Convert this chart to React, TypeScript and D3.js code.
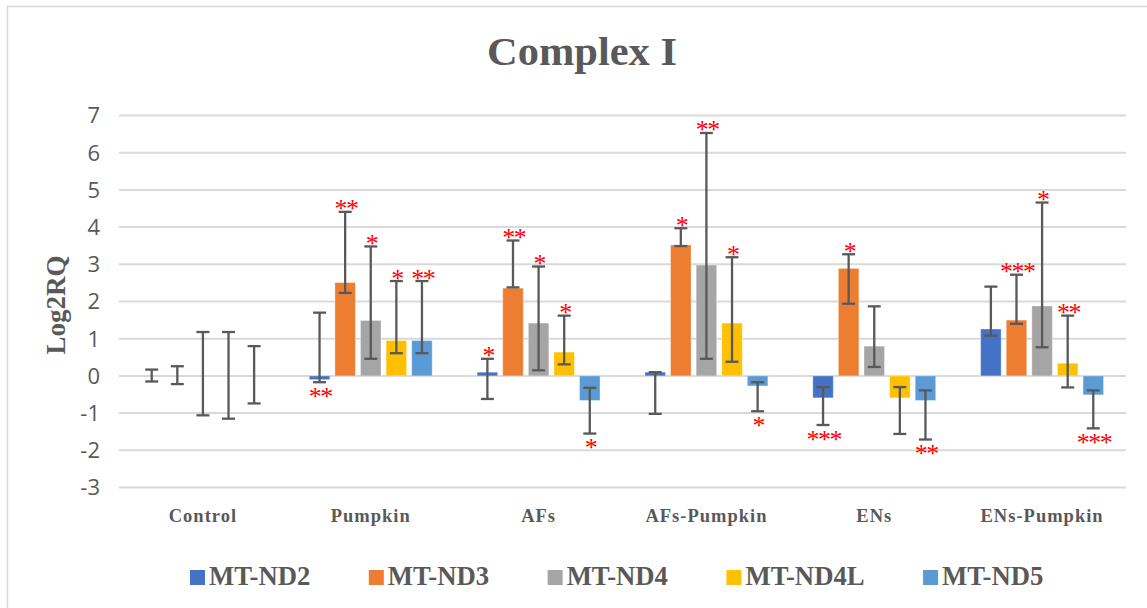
import * as d3 from "d3";

const categories = ["Control", "Pumpkin", "AFs", "AFs-Pumpkin", "ENs", "ENs-Pumpkin"];
const seriesNames = ["MT-ND2", "MT-ND3", "MT-ND4", "MT-ND4L", "MT-ND5"];
const seriesColors = ["#4472C4", "#ED7D31", "#A5A5A5", "#FFC000", "#5B9BD5"];

// bar heights (Log2RQ), one array per gene, in category order
const nd2 = [0, -0.1, 0.1, 0.1, -0.59, 1.26];
const nd3 = [0, 2.51, 2.36, 3.52, 2.89, 1.5];
const nd4 = [0, 1.49, 1.42, 2.98, 0.8, 1.88];
const nd4l = [0, 0.95, 0.64, 1.42, -0.59, 0.34];
const nd5 = [0, 0.95, -0.66, -0.27, -0.66, -0.51];

// error bar ends
const nd2High = [0.17, 1.7, 0.46, 0.1, -0.3, 2.4];
const nd3High = [0.26, 4.41, 3.64, 3.97, 3.27, 2.72];
const nd4High = [1.18, 3.48, 2.94, 6.53, 1.87, 4.66];
const nd4lHigh = [1.18, 2.55, 1.62, 3.19, -0.3, 1.62];
const nd5High = [0.8, 2.55, -0.32, -0.17, -0.39, -0.39];

const nd2Low = [-0.15, -0.17, -0.62, -1.02, -1.32, 1.08];
const nd3Low = [-0.22, 2.23, 2.38, 3.49, 1.94, 1.4];
const nd4Low = [-1.06, 0.46, 0.15, 0.46, 0.24, 0.77];
const nd4lLow = [-1.15, 0.61, 0.31, 0.38, -1.56, -0.31];
const nd5Low = [-0.74, 0.61, -1.55, -0.95, -1.71, -1.41];

// significance marks
const nd2Sig = ["", "**", "*", "", "***", ""];
const nd3Sig = ["", "**", "**", "*", "*", "***"];
const nd4Sig = ["", "*", "*", "**", "", "*"];
const nd4lSig = ["", "*", "*", "*", "", "**"];
const nd5Sig = ["", "**", "*", "*", "**", "***"];

const yTicks = [-3, -2, -1, 0, 1, 2, 3, 4, 5, 6, 7];

const values = [nd2, nd3, nd4, nd4l, nd5];
const highs = [nd2High, nd3High, nd4High, nd4lHigh, nd5High];
const lows = [nd2Low, nd3Low, nd4Low, nd4lLow, nd5Low];
const sigs = [nd2Sig, nd3Sig, nd4Sig, nd4lSig, nd5Sig];

const W = 1147;
const H = 608;
const left = 119;
const right = 1126;

const legendFont = "bold 26.7px 'Liberation Serif'";

function measure(text: string, font: string) {
  const ctx = document.createElement("canvas").getContext("2d");
  if (!ctx) return text.length * 17;
  ctx.font = font;
  return ctx.measureText(text).width;
}

export default function App() {
  const x = d3.scaleBand().domain(categories).range([left, right]).padding(0);
  const inner = d3.scaleBand().domain(seriesNames).range([-64, 64]).padding(0);
  const barW = 20.5;
  const y = d3.scaleLinear().domain([-3, 7]).range([487.5, 115.5]);
  const grey = "#595959";
  const cap = 6.5;

  // legend layout
  let lx = 190;
  const legendItems = seriesNames.map((name, i) => {
    const w = measure(name, legendFont);
    const item = { name, color: seriesColors[i], x: lx };
    lx += 15 + 4 + w + 58.5;
    return item;
  });

  return (
    <div style={{ position: "absolute", left: 0, top: 0 }}>
      <svg width={W} height={H} viewBox={`0 0 ${W} ${H}`} style={{ display: "block" }}>
        <rect x={0} y={0} width={W} height={H} fill="#fff" />
        <rect x={7.5} y={6.5} width={W + 20} height={H + 20} fill="#fff" stroke="#D9D9D9" strokeWidth={1.5} />

        <text
          x={582}
          y={65}
          textAnchor="middle"
          fontFamily="'Liberation Serif', serif"
          fontWeight="bold"
          fontSize={41}
          fill={grey}
          textLength={190}
          lengthAdjust="spacingAndGlyphs"
        >
          Complex I
        </text>

        {yTicks.map((t) => (
          <g key={t}>
            <line x1={left} x2={right} y1={y(t)} y2={y(t)} stroke="#D9D9D9" strokeWidth={2} />
            <text
              x={100}
              y={y(t)}
              dy="0.36em"
              textAnchor="end"
              fontFamily="'Open Sans', sans-serif"
              fontSize={22}
              fill={grey}
            >
              {t}
            </text>
          </g>
        ))}

        <text
          transform="translate(65,305) rotate(-90)"
          textAnchor="middle"
          fontFamily="'Liberation Serif', serif"
          fontWeight="bold"
          fontSize={27}
          fill={grey}
        >
          Log2RQ
        </text>

        {categories.map((c) => (
          <text
            key={c}
            x={(x(c) ?? 0) + x.bandwidth() / 2}
            y={522}
            textAnchor="middle"
            fontFamily="'Liberation Serif', serif"
            fontWeight="bold"
            fontSize={18.5}
            letterSpacing={1}
            fill={grey}
          >
            {c}
          </text>
        ))}

        {seriesNames.map((s, si) => (
          <g key={s}>
            {categories.map((c, ci) => {
              const cx = (x(c) ?? 0) + x.bandwidth() / 2 + (inner(s) ?? 0) + inner.bandwidth() / 2;
              const v = values[si][ci];
              const y0 = y(0);
              const yv = y(v);
              const yh = y(highs[si][ci]);
              const yl = y(lows[si][ci]);
              const sig = sigs[si][ci];
              return (
                <g key={c}>
                  {v !== 0 && (
                    <rect
                      x={cx - barW / 2}
                      y={Math.min(y0, yv)}
                      width={barW}
                      height={Math.abs(yv - y0)}
                      fill={seriesColors[si]}
                      stroke="#fff"
                      strokeOpacity={0.35}
                      strokeWidth={1}
                    />
                  )}
                  <line x1={cx} x2={cx} y1={yh} y2={yl} stroke={grey} strokeWidth={2.3} />
                  <line x1={cx - cap} x2={cx + cap} y1={yh} y2={yh} stroke={grey} strokeWidth={2.3} />
                  <line x1={cx - cap} x2={cx + cap} y1={yl} y2={yl} stroke={grey} strokeWidth={2.3} />
                  {sig && (
                    <text
                      x={cx + 0.75}
                      y={v >= 0 ? yh + 5.5 : yl + 22.5}
                      textAnchor="middle"
                      fontFamily="'Liberation Serif', serif"
                      fontSize={26}
                      letterSpacing={-1.5}
                      fill="#FF0000"
                    >
                      {sig}
                    </text>
                  )}
                </g>
              );
            })}
          </g>
        ))}

        {legendItems.map((d) => (
          <g key={d.name}>
            <rect x={d.x} y={570} width={15} height={15} fill={d.color} />
            <text
              x={d.x + 19}
              y={584.5}
              fontFamily="'Liberation Serif', serif"
              fontWeight="bold"
              fontSize={26.7}
              fill={grey}
            >
              {d.name}
            </text>
          </g>
        ))}
      </svg>
    </div>
  );
}
